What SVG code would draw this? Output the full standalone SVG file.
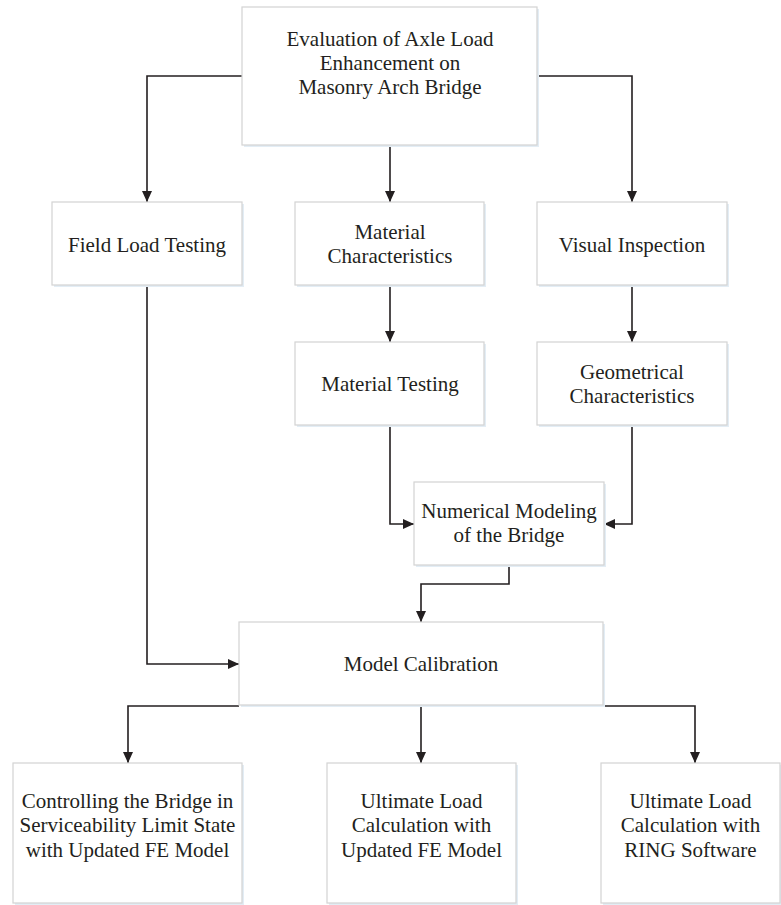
<svg xmlns="http://www.w3.org/2000/svg" width="781" height="905" viewBox="0 0 781 905">
<style>
.box{fill:#ffffff;stroke:#d3d3d3;stroke-width:1.2}
.sh{fill:#e3edf5}
.t{font-family:"Liberation Serif","Times New Roman",serif;font-size:21px;fill:#231f20;text-anchor:middle}
.c{fill:none;stroke:#231f20;stroke-width:1.6}
</style>
<defs>
<marker id="ah" markerUnits="userSpaceOnUse" markerWidth="12" markerHeight="12" refX="11" refY="5" orient="auto">
<path d="M0,0 L11,5 L0,10 z" fill="#231f20"/>
</marker>
</defs>
<g id="connectors">
<path class="c" d="M242,76 H147 V202" marker-end="url(#ah)"/>
<path class="c" d="M390,145 V202" marker-end="url(#ah)"/>
<path class="c" d="M537,76 H632 V202" marker-end="url(#ah)"/>
<path class="c" d="M390,285 V342" marker-end="url(#ah)"/>
<path class="c" d="M632,285 V342" marker-end="url(#ah)"/>
<path class="c" d="M147,285 V664 H239" marker-end="url(#ah)"/>
<path class="c" d="M390,425 V524 H414" marker-end="url(#ah)"/>
<path class="c" d="M632,425 V524 H604" marker-end="url(#ah)"/>
<path class="c" d="M509,565 V584 H421 V622" marker-end="url(#ah)"/>
<path class="c" d="M239,706 H128 V763" marker-end="url(#ah)"/>
<path class="c" d="M421,706 V763" marker-end="url(#ah)"/>
<path class="c" d="M603,706 H695 V763" marker-end="url(#ah)"/>
</g>
<g id="n_top">
<rect class="sh" x="244" y="9" width="295" height="138"/>
<rect class="box" x="242" y="7" width="295" height="138"/>
<text class="t" x="390" y="46">Evaluation of Axle Load</text>
<text class="t" x="390" y="70">Enhancement on</text>
<text class="t" x="390" y="94">Masonry Arch Bridge</text>
</g>
<g id="n_field">
<rect class="sh" x="54" y="204" width="190" height="83"/>
<rect class="box" x="52" y="202" width="190" height="83"/>
<text class="t" x="147" y="252">Field Load Testing</text>
</g>
<g id="n_matchar">
<rect class="sh" x="297" y="204" width="189" height="83"/>
<rect class="box" x="295" y="202" width="189" height="83"/>
<text class="t" x="390" y="239">Material</text>
<text class="t" x="390" y="263">Characteristics</text>
</g>
<g id="n_visual">
<rect class="sh" x="539" y="204" width="190" height="83"/>
<rect class="box" x="537" y="202" width="190" height="83"/>
<text class="t" x="632" y="252">Visual Inspection</text>
</g>
<g id="n_mattest">
<rect class="sh" x="297" y="344" width="189" height="83"/>
<rect class="box" x="295" y="342" width="189" height="83"/>
<text class="t" x="390" y="391">Material Testing</text>
</g>
<g id="n_geom">
<rect class="sh" x="539" y="344" width="190" height="83"/>
<rect class="box" x="537" y="342" width="190" height="83"/>
<text class="t" x="632" y="379">Geometrical</text>
<text class="t" x="632" y="403">Characteristics</text>
</g>
<g id="n_numerical">
<rect class="sh" x="416" y="484" width="190" height="83"/>
<rect class="box" x="414" y="482" width="190" height="83"/>
<text class="t" x="509" y="518">Numerical Modeling</text>
<text class="t" x="509" y="542">of the Bridge</text>
</g>
<g id="n_calib">
<rect class="sh" x="241" y="624" width="364" height="83"/>
<rect class="box" x="239" y="622" width="364" height="83"/>
<text class="t" x="421" y="671">Model Calibration</text>
</g>
<g id="n_sls">
<rect class="sh" x="15" y="765" width="229" height="140"/>
<rect class="box" x="13" y="763" width="229" height="140"/>
<text class="t" x="127.5" y="808">Controlling the Bridge in</text>
<text class="t" x="127.5" y="832">Serviceability Limit State</text>
<text class="t" x="127.5" y="857">with Updated FE Model</text>
</g>
<g id="n_ulfe">
<rect class="sh" x="329" y="765" width="189" height="140"/>
<rect class="box" x="327" y="763" width="189" height="140"/>
<text class="t" x="421.5" y="808">Ultimate Load</text>
<text class="t" x="421.5" y="832">Calculation with</text>
<text class="t" x="421.5" y="857">Updated FE Model</text>
</g>
<g id="n_ring">
<rect class="sh" x="603" y="765" width="180" height="140"/>
<rect class="box" x="601" y="763" width="179" height="140"/>
<text class="t" x="690.5" y="808">Ultimate Load</text>
<text class="t" x="690.5" y="832">Calculation with</text>
<text class="t" x="690.5" y="857">RING Software</text>
</g>
</svg>
